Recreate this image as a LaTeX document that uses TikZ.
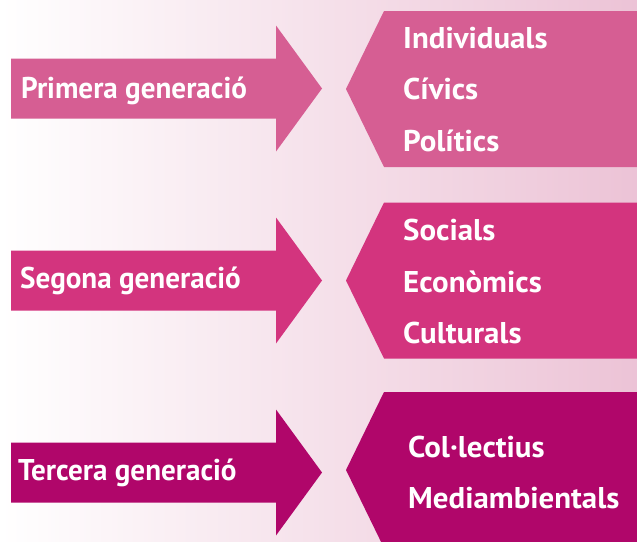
\documentclass[tikz,border=0pt]{standalone}
\usepackage{fontspec}
\setmainfont{PT Sans}
\newfontfamily\genfont[FakeStretch=0.97]{PT Sans}
\newfontfamily\itemfont[FakeStretch=1.03]{PT Sans}
\definecolor{rowA}{HTML}{D65E93}
\definecolor{rowB}{HTML}{D3347E}
\definecolor{rowC}{HTML}{B0066A}
\definecolor{bgpink}{HTML}{ECC3D6}
\tikzset{
  lab/.style={text=white, inner sep=0pt, anchor=base west},
  genlab/.style={lab, font=\genfont\bfseries\fontsize{30}{32}\selectfont},
  itemlab/.style={lab, font=\itemfont\bfseries\fontsize{30}{32}\selectfont},
}
\newcommand{\genarrow}[2]{%
  \fill[#1] (11,#2-30) -- (276,#2-30) -- (276,#2-63) -- (322,#2) -- (276,#2+63) -- (276,#2+30) -- (11,#2+30) -- cycle;}
\newcommand{\rightpanel}[2]{%
  \fill[#1] (384,#2-78) -- (640,#2-78) -- (640,#2+78) -- (384,#2+78) -- (346,#2) -- cycle;}
\begin{document}
\begin{tikzpicture}[x=1pt,y=-1pt]
\useasboundingbox (0,0) rectangle (637,541);
\begin{scope}
\clip (0,0) rectangle (637,541);
\shade[left color=white, right color=bgpink] (0,0) rectangle (637,541);
\genarrow{rowA}{88.5}
\genarrow{rowB}{280.5}
\genarrow{rowC}{472.5}
\rightpanel{rowA}{89}
\rightpanel{rowB}{280.5}
\rightpanel{rowC}{470}
\end{scope}
\node[genlab] (g1) at (21,98) {Primera generació};
\node[genlab] (g2) at (20,288) {Segona generació};
\node[genlab] (g3) at (18,480) {Tercera generació};
\node[itemlab] (r11) at (403,48) {Individuals};
\node[itemlab] (r12) at (403,99) {Cívics};
\node[itemlab] (r13) at (403,151) {Polítics};
\node[itemlab] (r21) at (403,240) {Socials};
\node[itemlab] (r22) at (403,292) {Econòmics};
\node[itemlab] (r23) at (403,343) {Culturals};
\node[itemlab] (r31) at (408,457) {Col·lectius};
\node[itemlab] (r32) at (408,508) {Mediambientals};
\end{tikzpicture}
\end{document}
